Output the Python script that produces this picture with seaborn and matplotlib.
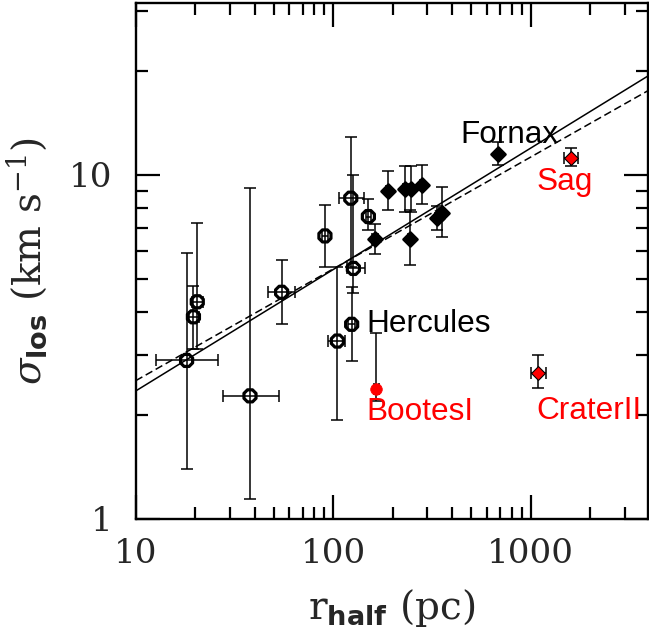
import numpy as np
import pandas as pd
import matplotlib
matplotlib.use("Agg")
import matplotlib.pyplot as plt
import seaborn as sns
from matplotlib.ticker import LogLocator, NullFormatter, FixedLocator, FixedFormatter

# --- ultra-faint dwarfs (open symbols) ---
open_r = [18.1, 20.5, 19.6, 37.9, 54.8, 90.8, 122.7, 126.5, 124.0, 150.7, 105.0]
open_r_lo = [12.6, 19.3, 18.7, 27.6, 46.9, 88.0, 106.7, 117.0, 119.0, 146.0, 94.5]
open_r_hi = [26.2, 22.0, 20.8, 53.3, 64.1, 94.0, 143.0, 145.0, 129.0, 156.0, 114.5]
open_s = [2.89, 4.28, 3.87, 2.28, 4.56, 6.65, 8.56, 5.35, 3.68, 7.57, 3.29]
open_s_lo = [1.40, 3.13, 3.13, 1.14, 3.68, 5.41, 5.40, 4.53, 2.87, 6.90, 1.94]
open_s_hi = [5.92, 7.24, 4.76, 9.15, 5.66, 8.18, 12.9, 10.0, 4.73, 8.50, 5.41]

# --- classical dwarfs (filled symbols) ---
cls_r = [163, 189, 231, 247, 281, 245, 334, 354, 686]
cls_r_lo = [158, 184, 225, 241, 274, 239, 326, 345, 672]
cls_r_hi = [168, 194, 237, 253, 288, 251, 342, 363, 700]
cls_s = [6.52, 9.00, 9.09, 9.09, 9.35, 6.52, 7.48, 7.74, 11.5]
cls_s_lo = [5.90, 7.90, 7.80, 7.80, 8.25, 5.47, 6.90, 6.60, 10.7]
cls_s_hi = [7.20, 10.3, 10.6, 10.6, 10.67, 7.90, 8.10, 9.20, 12.5]

# --- highlighted systems (red) ---
red_names = ["BootesI", "Sag", "CraterII"]
red_r = [165, 1595, 1092]
red_r_lo = [160, 1470, 1000]
red_r_hi = [170, 1740, 1190]
red_s = [2.38, 11.2, 2.66]
red_s_lo = [2.20, 10.6, 2.41]
red_s_hi = [3.48, 12.0, 2.99]

# --- power-law fits: sigma = A * r^B ---
fit_solid = (1.045, 0.353)
fit_dashed = (1.194, 0.325)

# --- annotations ---
label_text = ["Fornax", "Sag", "Hercules", "BootesI", "CraterII"]
label_r = [438, 1064, 148, 148, 1064]
label_s = [12.4, 9.04, 3.50, 1.94, 1.95]
label_color = ["black", "red", "black", "red", "red"]

x_ticks = [10, 100, 1000]
x_ticklabels = ["10", "100", "1000"]
y_ticks = [1, 10]
y_ticklabels = ["1", "10"]

sns.set_style("ticks")
plt.rcParams.update({
    "font.family": ["DejaVu Serif"],
    "mathtext.fontset": "custom",
    "mathtext.rm": "DejaVu Serif",
    "mathtext.it": "DejaVu Serif:italic",
    "mathtext.bf": "DejaVu Sans:bold",
})

fig = plt.figure(figsize=(6.49, 6.34), dpi=100)
ax = fig.add_axes([0.2091, 0.1814, 0.7894, 0.8134])
ax.set_xscale("log")
ax.set_yscale("log")
xmin, xmax = 10, 10 ** 3.594
ax.set_xlim(xmin, xmax)
ax.set_ylim(1, 10 ** 1.499)

# fit lines
rr = np.logspace(np.log10(xmin), np.log10(xmax), 50)
fits = pd.DataFrame({
    "r": np.concatenate([rr, rr]),
    "s": np.concatenate([fit_solid[0] * rr ** fit_solid[1],
                         fit_dashed[0] * rr ** fit_dashed[1]]),
    "fit": ["solid"] * len(rr) + ["dashed"] * len(rr),
})
sns.lineplot(data=fits[fits.fit == "solid"], x="r", y="s", color="black",
             lw=1.1, ax=ax, zorder=2)
sns.lineplot(data=fits[fits.fit == "dashed"], x="r", y="s", color="black",
             lw=1.1, ax=ax, zorder=2, dashes=False, linestyle=(0, (5, 2.5)))


def bars(r, rlo, rhi, s, slo, shi):
    r, rlo, rhi = map(np.asarray, (r, rlo, rhi))
    s, slo, shi = map(np.asarray, (s, slo, shi))
    ax.errorbar(r, s, xerr=[r - rlo, rhi - r], yerr=[s - slo, shi - s],
                fmt="none", ecolor="black", elinewidth=1.1, capsize=4.6,
                capthick=1.1, zorder=3)


bars(open_r, open_r_lo, open_r_hi, open_s, open_s_lo, open_s_hi)
bars(cls_r, cls_r_lo, cls_r_hi, cls_s, cls_s_lo, cls_s_hi)
bars(red_r, red_r_lo, red_r_hi, red_s, red_s_lo, red_s_hi)

df_open = pd.DataFrame({"r": open_r, "s": open_s})
df_cls = pd.DataFrame({"r": cls_r, "s": cls_s})
df_red = pd.DataFrame({"r": red_r, "s": red_s, "name": red_names})

sns.scatterplot(data=df_open, x="r", y="s", marker="8", s=88,
                facecolor="none", edgecolor="black", linewidth=2.3, ax=ax, zorder=4)
sns.scatterplot(data=df_cls, x="r", y="s", marker="D", s=52,
                color="black", edgecolor="black", linewidth=1.8, ax=ax, zorder=4)
sns.scatterplot(data=df_red[df_red.name != "BootesI"], x="r", y="s", marker="D",
                s=50, color="red", edgecolor="black", linewidth=0.8, ax=ax, zorder=5)
sns.scatterplot(data=df_red[df_red.name == "BootesI"], x="r", y="s", marker="o",
                s=70, color="red", edgecolor="red", linewidth=0.5, ax=ax, zorder=5)

for t, x, y, c in zip(label_text, label_r, label_s, label_color):
    ax.text(x, y, t, color=c, fontsize=22.7, family="Liberation Sans",
            ha="left", va="baseline", zorder=6)

# axes frame and ticks
for sp in ax.spines.values():
    sp.set_linewidth(1.7)
    sp.set_color("black")
ax.xaxis.set_major_locator(FixedLocator(x_ticks))
ax.xaxis.set_major_formatter(FixedFormatter(x_ticklabels))
ax.yaxis.set_major_locator(FixedLocator(y_ticks))
ax.yaxis.set_major_formatter(FixedFormatter(y_ticklabels))
ax.xaxis.set_minor_locator(LogLocator(base=10, subs=np.arange(2, 10), numticks=20))
ax.yaxis.set_minor_locator(LogLocator(base=10, subs=np.arange(2, 10), numticks=20))
ax.xaxis.set_minor_formatter(NullFormatter())
ax.yaxis.set_minor_formatter(NullFormatter())
ax.tick_params(which="both", direction="in", top=True, right=True,
               color="black", width=1.6)
ax.tick_params(which="major", length=17)
ax.tick_params(which="minor", length=8.6)
ax.tick_params(axis="x", which="major", labelsize=24.5, pad=14)
ax.tick_params(axis="y", which="major", labelsize=24.5, pad=17)

ax.set_xlabel(r"$\mathrm{r}_{\mathbf{half}}$ (pc)", fontsize=28, labelpad=12)
ax.set_ylabel(r"$\sigma_{\mathbf{los}}$ (km s$^{-1}$)", fontsize=28, labelpad=14)

fig.savefig("out.png", dpi=100)
